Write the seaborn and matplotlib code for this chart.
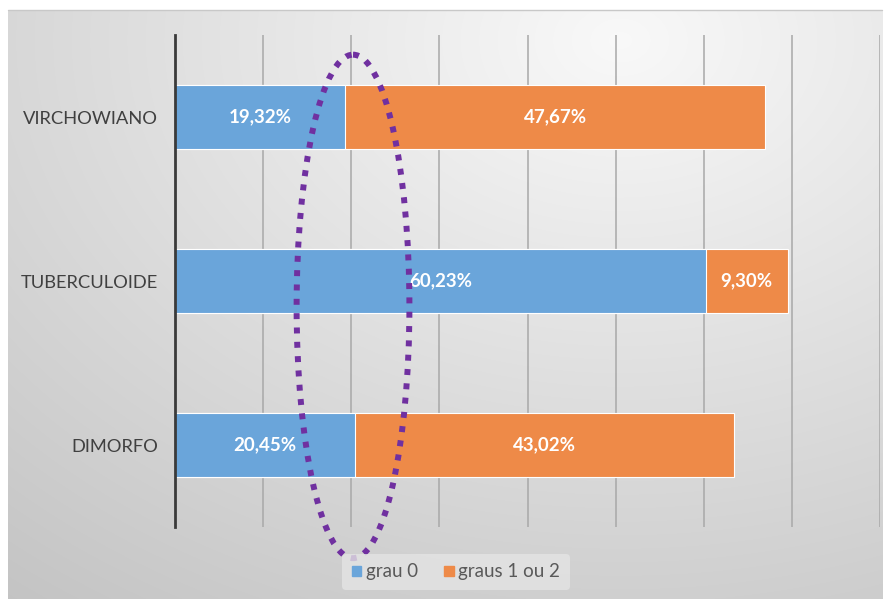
import numpy as np
import pandas as pd
import matplotlib
matplotlib.use("Agg")
import matplotlib.pyplot as plt
import seaborn as sns
from matplotlib.patches import Ellipse, Rectangle

categories = ["VIRCHOWIANO", "TUBERCULOIDE", "DIMORFO"]
grau0 = [19.32, 60.23, 20.45]
graus12 = [47.67, 9.30, 43.02]
series_names = ["grau 0", "graus 1 ou 2"]

sns.set_theme(style="white")
plt.rcParams["font.family"] = ["Lato", "DejaVu Sans"]

W, H = 890, 599
fig = plt.figure(figsize=(W / 100, H / 100), dpi=100)
fig.patch.set_facecolor("white")

# gradient background panel
bg = fig.add_axes([0, 0, 1, 1], zorder=-10)
yy, xx = np.mgrid[0:H, 0:W]
d = np.sqrt(((xx - 620) / 850.0) ** 2 + ((yy - 40) / 620.0) ** 2)
val = 0.975 - 0.18 * np.clip(d, 0, 1.2)
img = np.dstack([val, val, val])
img[yy < 10] = 1.0
img[xx < 8] = 1.0
img[xx > 882] = 1.0
bg.imshow(img, extent=[0, W, H, 0], aspect="auto", interpolation="bilinear")
bg.plot([8, 882], [10, 10], color="#c8c8c8", lw=1)
bg.set_xlim(0, W)
bg.set_ylim(H, 0)
bg.axis("off")

ax = fig.add_axes([175 / W, 1 - 527 / H, (880 - 175) / W, (527 - 35) / H])
ax.patch.set_alpha(0)

df = pd.DataFrame({"cat": categories, "g0": grau0, "g12": graus12})
df["total"] = df["g0"] + df["g12"]

blue = "#6aa5da"
orange = "#ee8a48"
sns.barplot(data=df, y="cat", x="total", color=orange, width=0.385,
            saturation=1, edgecolor="white", linewidth=0.8, ax=ax, zorder=3)
sns.barplot(data=df, y="cat", x="g0", color=blue, width=0.385,
            saturation=1, edgecolor="white", linewidth=0.8, ax=ax, zorder=4)

for i, (a, b) in enumerate(zip(grau0, graus12)):
    ax.text(a / 2, i, f"{a:.2f}%".replace(".", ","), ha="center", va="center",
            color="white", fontsize=13.5, fontweight="bold", zorder=6)
    ax.text(a + b / 2, i, f"{b:.2f}%".replace(".", ","), ha="center", va="center",
            color="white", fontsize=13.5, fontweight="bold", zorder=6)

ax.set_xlim(0, 80)
ax.set_ylim(2.5, -0.5)
ax.set_xticks(np.arange(0, 81, 10))
ax.set_xticklabels([])
ax.grid(axis="x", color="#a8a8a8", lw=1.1, zorder=0)
ax.grid(axis="y", visible=False)
ax.set_axisbelow(True)
ax.tick_params(axis="both", length=0)
ax.tick_params(axis="y", labelsize=13.2, labelcolor="#404040", pad=12)
ax.set_xlabel("")
ax.set_ylabel("")
for s in ["top", "right", "bottom"]:
    ax.spines[s].set_visible(False)
ax.spines["left"].set_color("#3a3a3a")
ax.spines["left"].set_linewidth(2)
ax.spines["left"].set_zorder(5)

# highlight ellipse
ell = Ellipse((20.2, 1.155), width=12.8, height=3.07, fill=False,
              edgecolor="#7030a0", lw=4.3, linestyle=(0, (1, 1.4)),
              clip_on=False, zorder=10)
ax.add_patch(ell)

handles = [Rectangle((0, 0), 1, 1, color=blue), Rectangle((0, 0), 1, 1, color=orange)]
leg = fig.legend(handles, series_names, loc="center", bbox_to_anchor=(456 / W, 1 - 572 / H),
                 ncol=2, frameon=True, fontsize=13.5, handlelength=0.5, handleheight=0.5,
                 handletextpad=0.25, columnspacing=1.4, borderpad=0.5)
leg.get_frame().set_facecolor("#e4e4e4")
leg.get_frame().set_edgecolor("none")
leg.get_frame().set_alpha(0.8)
for t in leg.get_texts():
    t.set_color("#595959")

fig.savefig("out.png", dpi=100)
